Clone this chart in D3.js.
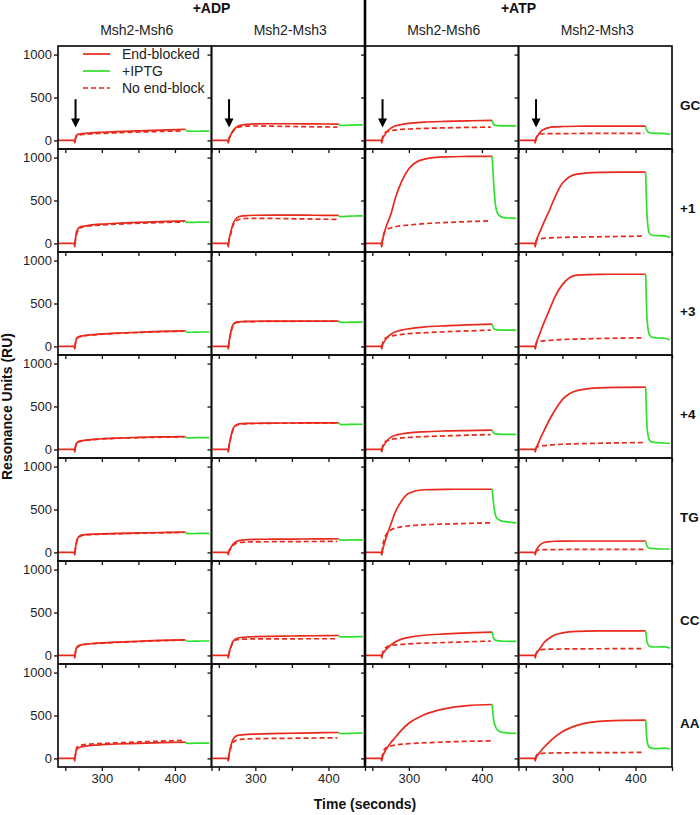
<!DOCTYPE html>
<html><head><meta charset="utf-8">
<script src="https://cdn.jsdelivr.net/npm/d3@7"></script>
<style>body{margin:0;background:#fff;} text{font-family:"Liberation Sans",Arial,sans-serif;}</style>
</head><body>
<script>
// ---------- data ----------
const rowLabels = ["GC","+1","+3","+4","TG","CC","AA"];
const columnLabels = ["Msh2-Msh6","Msh2-Msh3","Msh2-Msh6","Msh2-Msh3"];
const nucleotideLabels = ["+ADP","+ATP"];
const seriesLabels = ["End-blocked","+IPTG","No end-block"];
const xTicks = [250,300,350,400,450];
const xTickLabels = [300,400];
const yTicks = [0,500,1000];

const tEndBlocked = [240,262,263,264,266,270,275,282,290,300,320,350,380,414];
const tIptg = [414,416,419,423,430,440,447];
const tNoEndBlock = [263,266,270,275,285,300,330,370,412];

// endBlocked[row][col]
const endBlocked = [
  [[0,0,-30,30,65,75,80,85,90,95,103,112,120,130],
   [0,0,-30,20,60,120,160,180,188,192,194,194,192,190],
   [0,0,-30,20,50,100,140,170,185,198,212,222,228,233],
   [0,0,-30,20,50,100,130,150,158,162,165,166,167,167]],
  [[0,0,-40,60,150,190,200,210,218,225,235,245,255,262],
   [0,0,-40,40,120,240,300,320,325,328,330,330,328,326],
   [0,0,-40,30,110,220,330,540,720,870,980,1008,1013,1015],
   [0,0,-40,20,70,150,250,380,540,700,808,828,830,830]],
  [[0,0,-30,50,100,118,125,132,138,145,155,165,175,182],
   [0,0,-30,50,150,260,285,290,292,293,294,295,295,295],
   [0,0,-30,20,50,100,140,170,190,205,225,240,250,260],
   [0,0,-30,30,80,170,280,420,580,720,830,840,841,841]],
  [[0,0,-30,40,80,98,105,112,118,124,132,140,145,150],
   [0,0,-30,40,130,250,290,300,303,305,307,308,309,310],
   [0,0,-30,20,50,100,140,165,180,192,205,215,220,225],
   [0,0,-30,15,50,130,220,340,460,580,685,718,723,725]],
  [[0,0,-30,60,150,195,205,210,213,216,221,227,232,236],
   [0,0,-30,20,50,100,130,145,150,152,154,156,157,159],
   [0,0,-30,20,90,200,320,480,600,690,730,735,736,736],
   [0,0,-30,20,50,90,115,125,130,132,133,133,133,133]],
  [[0,0,-30,50,100,120,128,135,140,146,155,165,175,182],
   [0,0,-30,30,90,170,200,210,215,218,222,226,229,232],
   [0,0,-30,15,40,80,120,160,190,210,235,250,262,271],
   [0,0,-30,15,40,90,150,200,240,262,280,285,286,287]],
  [[0,0,-30,50,110,130,140,148,155,160,168,176,184,190],
   [0,0,-30,40,130,230,265,275,280,283,288,293,298,302],
   [0,0,-30,20,60,120,180,250,330,410,505,580,615,628],
   [0,0,-30,10,35,80,130,190,250,310,385,432,443,446]]
];
const iptg = [
  [[130,112,108,107,107,108,108],[190,176,174,175,178,180,180],[233,185,175,172,170,170,170],[167,110,90,85,82,80,74]],
  [[262,245,245,245,247,248,248],[326,312,312,315,318,320,322],[1015,700,420,330,300,295,292],[830,300,120,95,90,88,70]],
  [[182,168,165,165,167,168,168],[295,282,280,280,282,283,283],[260,210,195,192,190,190,190],[841,300,140,105,98,95,75]],
  [[150,138,135,135,137,138,138],[310,292,290,290,292,293,293],[225,190,180,178,176,175,175],[725,250,110,85,78,75,70]],
  [[236,222,220,220,221,222,222],[159,145,143,143,145,146,146],[736,560,420,380,360,350,345],[133,70,50,45,42,40,40]],
  [[182,168,165,165,167,168,168],[232,218,215,215,217,218,218],[271,200,175,170,165,164,163],[287,150,110,100,98,100,85]],
  [[190,178,176,176,178,179,179],[302,290,288,290,292,295,296],[628,450,360,320,300,293,291],[446,200,130,118,115,120,110]]
];
const noEndBlock = [
  [[0,55,65,70,76,82,92,102,112],[0,50,110,150,165,168,165,160,155],[0,80,100,112,125,133,142,150,155],[0,60,75,78,80,80,81,81,81]],
  [[0,120,180,195,205,215,228,240,250],[0,100,220,270,290,292,290,285,280],[0,120,160,180,200,215,235,250,264],[0,45,55,60,65,70,75,80,85]],
  [[0,90,112,122,132,142,155,168,178],[0,140,250,280,288,290,292,293,293],[0,80,105,120,135,148,163,177,190],[0,50,60,65,72,80,88,95,101]],
  [[0,70,92,102,112,122,132,140,146],[0,120,240,285,298,302,305,306,306],[0,80,100,115,128,140,152,163,174],[0,30,40,45,52,60,68,75,81]],
  [[0,130,185,200,208,212,218,226,234],[0,40,85,110,120,123,125,127,128],[0,150,220,260,290,310,325,335,345],[0,25,30,32,33,34,35,35,35]],
  [[0,90,115,125,135,142,155,168,180],[0,80,160,185,190,192,193,194,194],[0,70,100,115,125,135,145,156,167],[0,50,65,70,73,75,77,78,78]],
  [[0,130,150,160,168,175,185,198,212],[0,110,190,215,225,230,233,237,240],[0,100,130,145,160,172,185,197,205],[0,50,58,60,63,65,67,68,70]]
];
// injection arrow (time, from RU, to RU), drawn in the top row
const arrowTime = [264];
const arrowRange = [480, 150];

// ---------- layout ----------
const W = 700, H = 815;
const leftX = 58, topY = 46, pw = 153.5, ph = 103;
const RED = "#e8291c", GREEN = "#2fe02f";

const svg = d3.select("body").append("svg").attr("width", W).attr("height", H);
const x = d3.scaleLinear().domain([240, 450]).range([0, pw]);
const y = d3.scaleLinear().domain([-100, 1100]).range([ph, 0]);
const line = d3.line().x(d => x(d[0])).y(d => y(d[1])).curve(d3.curveMonotoneX);
const zip = (t, v) => t.map((ti, i) => [ti, v[i]]);

rowLabels.forEach((rl, r) => {
  columnLabels.forEach((cl, c) => {
    const g = svg.append("g").attr("transform", `translate(${leftX + c * pw},${topY + r * ph})`);
    g.append("path").attr("d", line(zip(tNoEndBlock, noEndBlock[r][c])))
      .attr("fill", "none").attr("stroke", RED).attr("stroke-width", 1.7).attr("stroke-dasharray", "5,3");
    g.append("path").attr("d", line(zip(tEndBlocked, endBlocked[r][c])))
      .attr("fill", "none").attr("stroke", RED).attr("stroke-width", 1.7);
    g.append("path").attr("d", line(zip(tIptg, iptg[r][c])))
      .attr("fill", "none").attr("stroke", GREEN).attr("stroke-width", 1.7);

    const xa = g.append("g").attr("transform", `translate(0,${ph})`)
      .call(d3.axisBottom(x).tickValues(xTicks).tickSize(4).tickPadding(3)
        .tickFormat(d => (r === rowLabels.length - 1 && xTickLabels.includes(d)) ? d : ""));
    const ya = g.append("g")
      .call(d3.axisLeft(y).tickValues(yTicks).tickSize(4).tickPadding(2)
        .tickFormat(d => c === 0 ? d : ""));
    [xa, ya].forEach(a => {
      a.select(".domain").remove();
      a.selectAll("line").attr("stroke", "#111").attr("stroke-width", 1.3);
      a.selectAll("text").attr("font-size", 13).attr("fill", "#222")
        .attr("font-family", '"Liberation Sans",Arial,sans-serif');
    });

    g.append("rect").attr("width", pw).attr("height", ph)
      .attr("fill", "none").attr("stroke", "#111").attr("stroke-width", 1.7);

    if (r === 0) {
      const ax = x(arrowTime[0]), y1 = y(arrowRange[0]), y2 = y(arrowRange[1]);
      g.append("line").attr("x1", ax).attr("x2", ax).attr("y1", y1).attr("y2", y2 - 8)
        .attr("stroke", "#000").attr("stroke-width", 2);
      g.append("path").attr("d", `M${ax - 4.5},${y2 - 9}L${ax + 4.5},${y2 - 9}L${ax},${y2}Z`).attr("fill", "#000");
    }

    if (r === 0 && c === 0) {
      const items = [[RED, null], [GREEN, null], [RED, "5,3"]];
      items.forEach((it, i) => {
        const ly = 8 + i * 17;
        g.append("line").attr("x1", 25).attr("x2", 52).attr("y1", ly).attr("y2", ly)
          .attr("stroke", it[0]).attr("stroke-width", 1.7).attr("stroke-dasharray", it[1]);
        g.append("text").attr("x", 64).attr("y", ly + 5).attr("font-size", 14).attr("fill", "#222")
          .text(seriesLabels[i]);
      });
    }
  });
  svg.append("text").attr("x", 680).attr("y", topY + r * ph + 64)
    .attr("font-size", 13.5).attr("font-weight", "bold").attr("fill", "#111").text(rl);
});

columnLabels.forEach((cl, c) => {
  svg.append("text").attr("x", leftX + c * pw + pw / 2 + 2).attr("y", 35)
    .attr("text-anchor", "middle").attr("font-size", 14).attr("fill", "#222").text(cl);
});
nucleotideLabels.forEach((nl, i) => {
  svg.append("text").attr("x", leftX + (2 * i + 1) * pw).attr("y", 13)
    .attr("text-anchor", "middle").attr("font-size", 14).attr("font-weight", "bold").attr("fill", "#111").text(nl);
});
svg.append("line").attr("x1", leftX + 2 * pw).attr("x2", leftX + 2 * pw)
  .attr("y1", 0).attr("y2", topY + rowLabels.length * ph)
  .attr("stroke", "#000").attr("stroke-width", 2.6);

svg.append("text").attr("x", leftX + 2 * pw).attr("y", 809).attr("text-anchor", "middle")
  .attr("font-size", 14).attr("font-weight", "bold").attr("fill", "#111").text("Time (seconds)");
svg.append("text").attr("transform", `translate(12,${topY + rowLabels.length * ph / 2}) rotate(-90)`)
  .attr("text-anchor", "middle").attr("font-size", 14).attr("font-weight", "bold").attr("fill", "#111")
  .text("Resonance Units (RU)");
</script>
</body></html>
